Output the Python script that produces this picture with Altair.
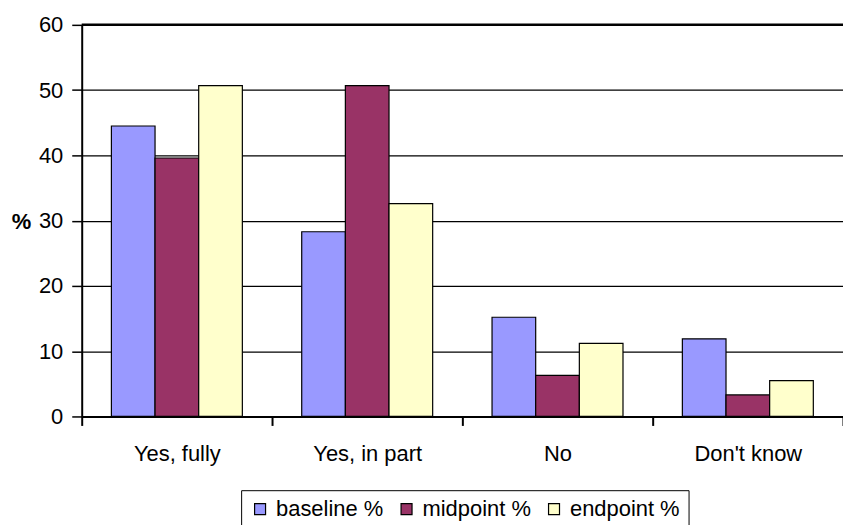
import altair as alt
import pandas as pd

# Survey answers and the share of respondents (%) at each time point
categories = ["Yes, fully", "Yes, in part", "No", "Don't know"]
series = ["baseline %", "midpoint %", "endpoint %"]
baseline = [44.5, 28.3, 15.2, 11.9]
midpoint = [39.6, 50.7, 6.3, 3.3]
endpoint = [50.7, 32.6, 11.2, 5.5]
colors = ["#9999FF", "#993366", "#FFFFCC"]
y_ticks = [0, 10, 20, 30, 40, 50, 60]

rows = []
for name, vals in zip(series, [baseline, midpoint, endpoint]):
    for cat, v in zip(categories, vals):
        rows.append({"answer": cat, "series": name, "value": v})
df = pd.DataFrame(rows)

FONT = "Liberation Sans"
FS = 22

bars = alt.Chart(df).mark_bar(stroke="black", strokeWidth=1.2).encode(
    x=alt.X(
        "answer:N",
        sort=categories,
        title=None,
        scale=alt.Scale(paddingInner=0, paddingOuter=0),
        axis=alt.Axis(
            labelAngle=0,
            labelFontSize=FS,
            labelFont=FONT,
            labelColor="black",
            labelPadding=18,
            tickBand="extent",
            tickSize=9,
            tickColor="black",
            tickWidth=2,
            domainColor="black",
            domainWidth=2,
            grid=False,
        ),
    ),
    # the three bars of a group fill the middle two thirds of each category
    xOffset=alt.XOffset("series:N", sort=series, scale=alt.Scale(paddingInner=0, paddingOuter=0.68)),
    y=alt.Y(
        "value:Q",
        scale=alt.Scale(domain=[0, 60], nice=False),
        axis=alt.Axis(
            values=y_ticks,
            title="%",
            titleAngle=0,
            titleFont=FONT,
            titleFontSize=FS,
            titleFontWeight="bold",
            titleColor="black",
            titleX=-61,
            titleY=197,
            titleAlign="center",
            titleBaseline="middle",
            labelFont=FONT,
            labelFontSize=FS,
            labelColor="black",
            labelPadding=9,
            tickSize=10,
            tickColor="black",
            tickWidth=1.5,
            domainColor="black",
            domainWidth=2,
            grid=True,
            gridColor="black",
            gridWidth=1.2,
        ),
    ),
    color=alt.Color(
        "series:N",
        sort=series,
        scale=alt.Scale(domain=series, range=colors),
        legend=alt.Legend(
            title=None,
            orient="none",
            direction="horizontal",
            legendX=160,
            legendY=467,
            symbolType="square",
            symbolSize=121,
            symbolStrokeColor="black",
            symbolStrokeWidth=1.2,
            symbolOpacity=1,
            labelFont=FONT,
            labelFontSize=FS,
            labelColor="black",
            labelOffset=5,
            columnPadding=12,
            padding=8,
            strokeColor="black",
            fillColor="white",
        ),
    ),
)

# heavier frame line along the top of the plot
top_line = alt.Chart(pd.DataFrame({"v": [60]})).mark_rule(color="black", strokeWidth=2.5).encode(
    y=alt.Y("v:Q", scale=alt.Scale(domain=[0, 60], nice=False))
)

chart = (
    alt.layer(bars, top_line)
    .properties(
        width=764,
        height=393,
        autosize=alt.AutoSizeParams(type="none"),
        padding={"left": 82, "top": 24, "right": 0, "bottom": 108},
        background="white",
    )
    .configure_view(stroke=None)
)

chart.save("out.html", embed_options={"renderer": "svg", "actions": False})
